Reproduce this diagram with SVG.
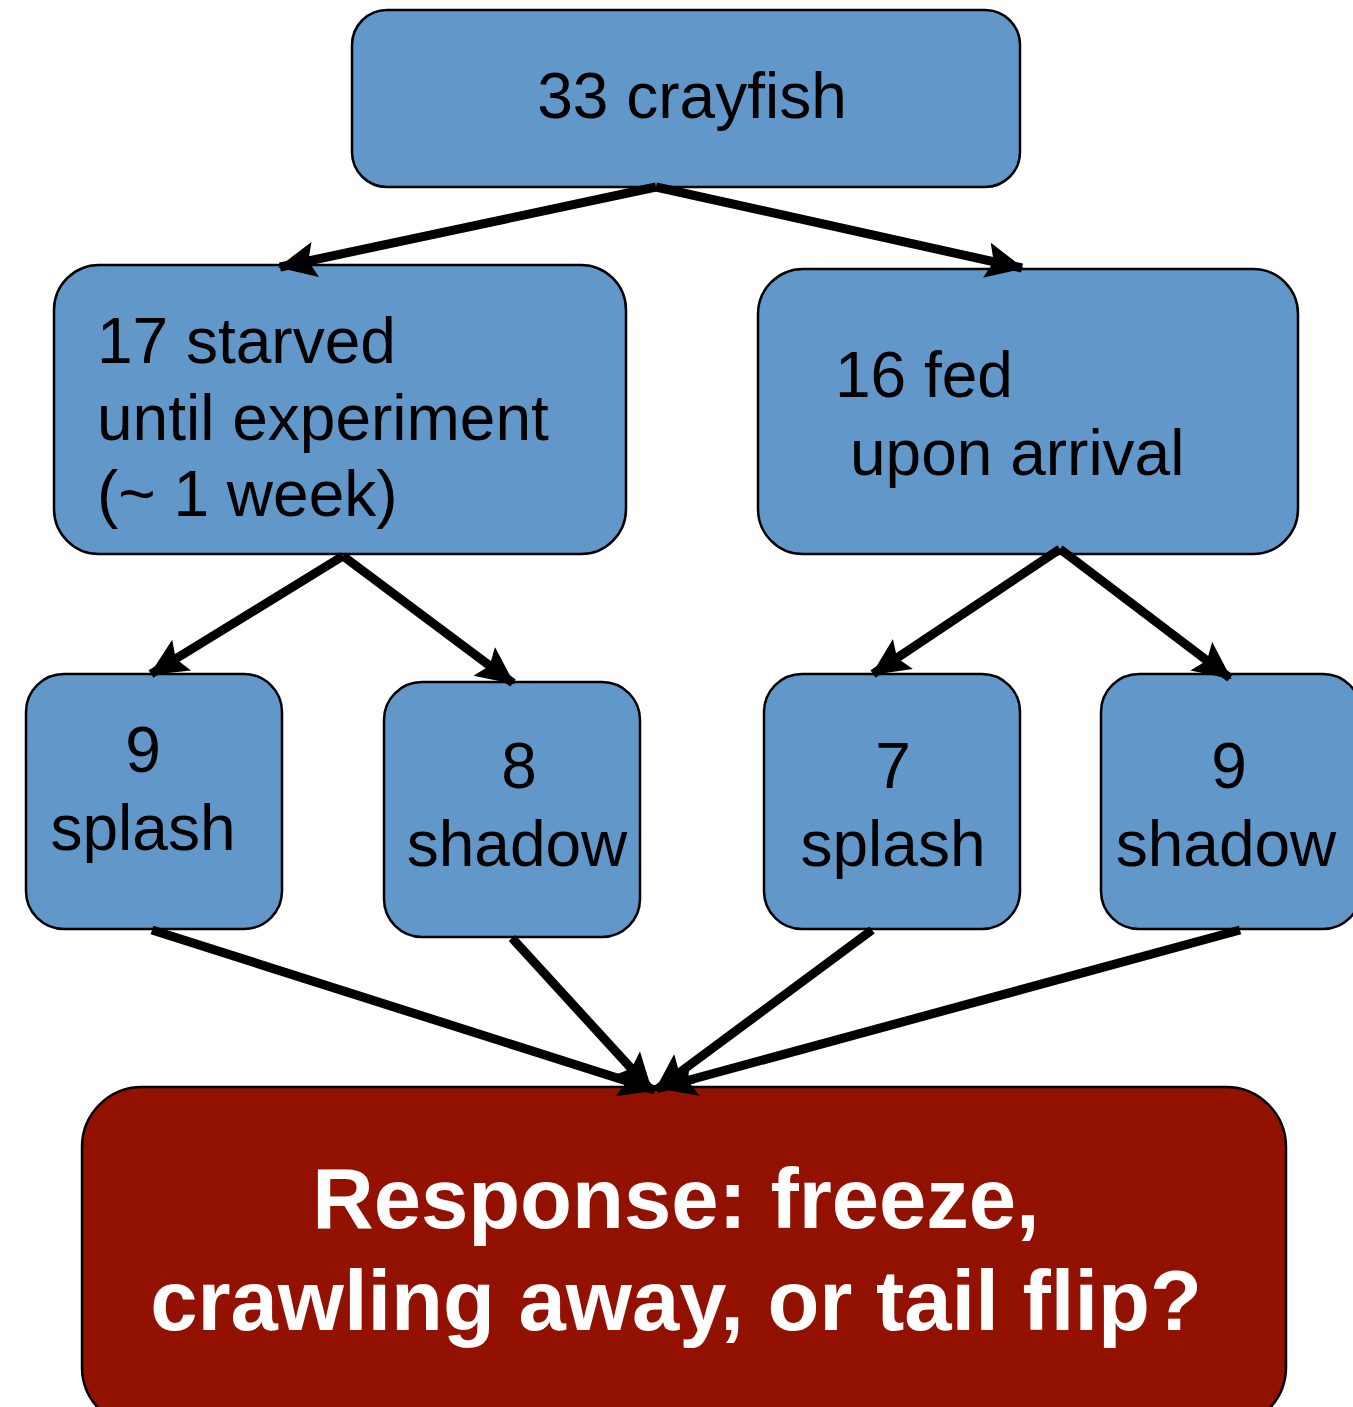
<svg xmlns="http://www.w3.org/2000/svg" width="1353" height="1407" viewBox="0 0 1353 1407">
<style>
.box{fill:#6297C9;stroke:#000;stroke-width:2.5}
.red{fill:#931100;stroke:#000;stroke-width:2.5}
.t{font-family:"Liberation Sans",Arial,sans-serif;font-size:64px;fill:#000}
.c{text-anchor:middle}
.b{font-family:"Liberation Sans",Arial,sans-serif;font-size:85px;font-weight:bold;fill:#fff;text-anchor:middle}
.e{stroke:#000;stroke-width:9;fill:none;marker-end:url(#ah)}
</style>
<defs>
<marker id="ah" markerUnits="userSpaceOnUse" markerWidth="44" markerHeight="40" refX="36" refY="18" orient="auto">
<path d="M0,0 L38,18 L0,36 L7,18 Z" fill="#000"/>
</marker>
</defs>
<rect width="1353" height="1407" fill="#fff"/>
<g id="n-top"><rect class="box" x="352" y="10" width="668" height="177" rx="35"/><text class="t c" x="692" y="118">33 crayfish</text></g>
<g id="n-starved"><rect class="box" x="54" y="265" width="572" height="289" rx="45"/><text class="t" x="97" y="363">17 starved</text><text class="t" x="97" y="440">until experiment</text><text class="t" x="97" y="516">(~ 1 week)</text></g>
<g id="n-fed"><rect class="box" x="758" y="269" width="540" height="285" rx="45"/><text class="t" x="835" y="397">16 fed</text><text class="t" x="850" y="475">upon arrival</text></g>
<g id="n-a"><rect class="box" x="26" y="674" width="256" height="255" rx="38"/><text class="t c" x="143" y="772">9</text><text class="t c" x="143" y="850">splash</text></g>
<g id="n-b"><rect class="box" x="384" y="682" width="256" height="255" rx="38"/><text class="t c" x="519" y="788">8</text><text class="t c" x="517" y="866">shadow</text></g>
<g id="n-c"><rect class="box" x="764" y="674" width="256" height="255" rx="38"/><text class="t c" x="893" y="788">7</text><text class="t c" x="893" y="866">splash</text></g>
<g id="n-d"><rect class="box" x="1101" y="674" width="260" height="255" rx="38"/><text class="t c" x="1229" y="788">9</text><text class="t c" x="1226" y="866">shadow</text></g>
<g id="n-resp"><rect class="red" x="82" y="1087" width="1204" height="340" rx="60"/><text class="b" x="676" y="1228">Response: freeze,</text><text class="b" x="676" y="1330">crawling away, or tail flip?</text></g>
<g id="edges">
<line class="e" x1="656" y1="187" x2="280" y2="267"/>
<line class="e" x1="656" y1="187" x2="1022" y2="268"/>
<line class="e" x1="343" y1="556" x2="151" y2="674"/>
<line class="e" x1="343" y1="556" x2="513" y2="683"/>
<line class="e" x1="1060" y1="549" x2="873" y2="674"/>
<line class="e" x1="1060" y1="549" x2="1230" y2="678"/>
<line class="e" x1="152" y1="930" x2="655" y2="1090"/>
<line class="e" x1="512" y1="938" x2="651" y2="1090"/>
<line class="e" x1="872" y1="930" x2="656" y2="1090"/>
<line class="e" x1="1240" y1="930" x2="660" y2="1088"/>
</g>
</svg>
